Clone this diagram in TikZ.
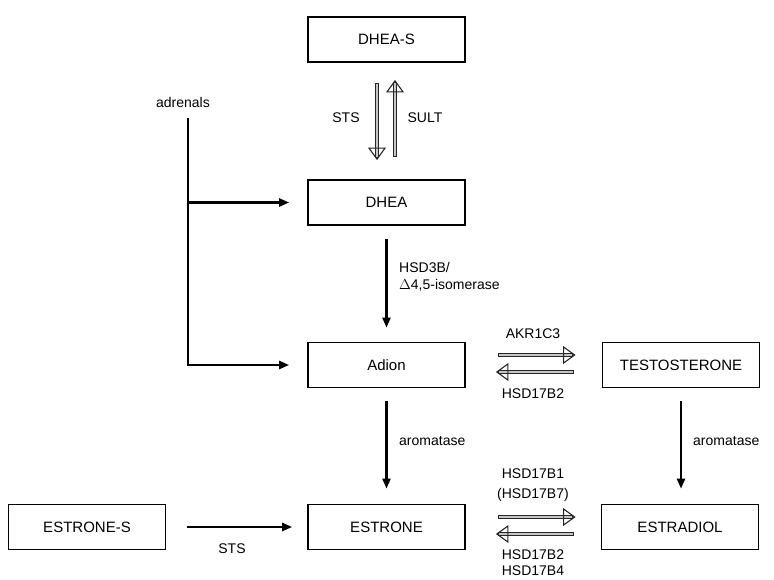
\documentclass[tikz,border=0pt]{standalone}
\usepackage{fontspec}
\setmainfont{Liberation Sans}
\usetikzlibrary{arrows.meta,calc}
\tikzset{
  box/.style={draw, line width=1.7pt, minimum width=157pt, minimum height=45pt, inner sep=0pt, font=\fontsize{15}{17}\selectfont},
  lbl/.style={font=\fontsize{14}{17}\selectfont, inner sep=0pt},
  flow/.style={line width=2.3pt, -{Triangle[length=10pt,width=8pt]}},
  shaft/.style={draw=black!85, fill=gray!45, line width=0.8pt},
  openhead/.style={draw=black!85, line width=1.1pt, line join=miter},
}
\newcommand{\openarr}[2]{%
  \coordinate (oa-s) at #1; \coordinate (oa-t) at #2;
  \coordinate (oa-b) at ($(oa-t)!11pt!(oa-s)$);
  \coordinate (oa-e) at ($(oa-t)!2pt!(oa-s)$);
  \draw[shaft] ($(oa-s)!1.6pt!90:(oa-e)$) -- ($(oa-e)!1.6pt!-90:(oa-s)$) -- ($(oa-e)!1.6pt!90:(oa-s)$) -- ($(oa-s)!1.6pt!-90:(oa-e)$) -- cycle;
  \draw[openhead] ($(oa-b)!8pt!90:(oa-t)$) -- (oa-t) -- ($(oa-b)!8pt!-90:(oa-t)$) -- cycle;
}
\begin{document}
\begin{tikzpicture}[x=1pt,y=-1pt]
\useasboundingbox (0,0) rectangle (774,580);
% boxes
\node[box] (dheas) at (386.5,39.5) {DHEA-S};
\node[box] (dhea) at (386.5,202.5) {DHEA};
\node[box] (adion) at (386.5,365) {Adion};
\node[box] (testo) at (681,365) {TESTOSTERONE};
\node[box] (estrone) at (386.5,527) {ESTRONE};
\node[box] (estradiol) at (680,527) {ESTRADIOL};
\node[box] (estrones) at (87,527) {ESTRONE-S};
% DHEA-S <-> DHEA
\openarr{($(dheas.south)+(-9.5,21)$)}{($(dhea.north)+(-9.5,-20)$)}
\openarr{($(dhea.north)+(8.5,-23)$)}{($(dheas.south)+(8.5,18)$)}
\node[lbl] (sts1) at (346,118) {STS};
\node[lbl] (sult) at (425,118) {SULT};
% adrenals
\node[lbl] (adr) at (183,102) {adrenals};
\coordinate (adrtop) at (188,118);
\draw[line width=2.3pt] (adrtop) -- ($(adrtop |- adion.west)+(0,1.15)$);
\draw[flow, shorten >=18pt] ($(adrtop |- dhea.west)+(-1.15,0)$) -- (dhea.west);
\draw[flow, shorten >=18pt] ($(adrtop |- adion.west)+(-1.15,0)$) -- (adion.west);
% DHEA -> Adion
\draw[flow, shorten <=13pt, shorten >=14pt] (dhea.south) -- (adion.north);
\node[lbl, anchor=west, align=left] (hsd3b) at (399,277) {HSD3B/\\$\Delta$4,5-isomerase};
% Adion <-> Testosterone
\openarr{($(adion.east)+(33,-10)$)}{($(testo.west)+(-27,-10)$)}
\openarr{($(testo.west)+(-28,7)$)}{($(adion.east)+(31,7)$)}
\node[lbl] (akr) at (533,334) {AKR1C3};
\node[lbl] (hsd2a) at (533,394) {HSD17B2};
% aromatase
\draw[flow, shorten <=13pt, shorten >=15pt] (adion.south) -- (estrone.north);
\node[lbl, anchor=west] (arom1) at (399,441) {aromatase};
\draw[flow, shorten <=13pt, shorten >=15pt] (testo.south) -- (testo.south |- estradiol.north);
\node[lbl, anchor=west] (arom2) at (693,441) {aromatase};
% Estrone-S -> Estrone
\draw[flow, shorten <=21pt, shorten >=15pt] (estrones.east) -- (estrone.west);
\node[lbl] (sts2) at (232,549) {STS};
% Estrone <-> Estradiol
\openarr{($(estrone.east)+(33,-10)$)}{($(estradiol.west)+(-26,-10)$)}
\openarr{($(estradiol.west)+(-27,7)$)}{($(estrone.east)+(31,7)$)}
\node[lbl] (hsd1) at (533,474) {HSD17B1};
\node[lbl] (hsd7) at (533,495) {(HSD17B7)};
\node[lbl] (hsd2b) at (533,555) {HSD17B2};
\node[lbl] (hsd4) at (533,571) {HSD17B4};
\end{tikzpicture}
\end{document}
